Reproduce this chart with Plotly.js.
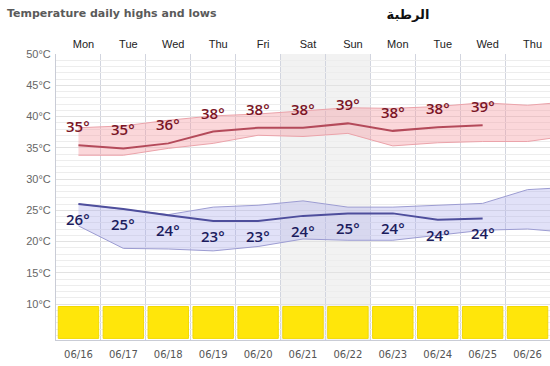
<!DOCTYPE html>
<html>
<head>
<meta charset="utf-8">
<script src="https://cdn.plot.ly/plotly-3.0.1.min.js"></script>
<style>html,body{margin:0;padding:0;background:#fff;}#chart{width:550px;height:366px;}</style>
</head>
<body>
<div id="chart"></div>
<script>
// ---- data ----
var days = ["Mon","Tue","Wed","Thu","Fri","Sat","Sun","Mon","Tue","Wed","Thu"];
var dates = ["06/16","06/17","06/18","06/19","06/20","06/21","06/22","06/23","06/24","06/25","06/26"];
var highLine = [35.4, 34.9, 35.7, 37.6, 38.2, 38.2, 38.9, 37.7, 38.3, 38.6];
var highLabels = [35, 35, 36, 38, 38, 38, 39, 38, 38, 39];
var lowLine = [26.0, 25.2, 24.2, 23.3, 23.3, 24.1, 24.5, 24.5, 23.5, 23.7];
var lowLabels = [26, 25, 24, 23, 23, 24, 25, 24, 24, 24];
// bands (one value per day, plus the value at the right chart edge)
var bandX = [0,1,2,3,4,5,6,7,8,9,10,10.5];
var highBandTop = [38.2, 38.5, 39.4, 40.1, 40.4, 40.9, 41.4, 41.3, 41.6, 42.2, 41.8, 42.1];
var highBandBottom = [33.8, 33.8, 34.9, 35.7, 37.0, 36.8, 37.3, 35.3, 35.8, 36.0, 36.0, 36.5];
var lowBandTop = [26.0, 25.2, 24.3, 25.5, 25.8, 26.5, 25.5, 25.5, 25.8, 26.1, 28.3, 28.5];
var lowBandBottom = [22.5, 18.9, 18.8, 18.5, 19.2, 20.4, 20.2, 20.2, 21.0, 21.8, 22.0, 21.7];
var iconBase = 4.5, iconTop = 9.6;
var yTicks = [10, 15, 20, 25, 30, 35, 40, 45, 50];
var yTickText = ["10°C","15°C","20°C","25°C","30°C","35°C","40°C","45°C","50°C"];

var idx = days.map(function(d,i){return i;});
var lineIdx = highLine.map(function(d,i){return i;});

var traces = [
  {x: idx, y: idx.map(function(){return iconTop-iconBase;}), base: idx.map(function(){return iconBase;}),
   type:'bar', width:0.9, marker:{color:'#ffe60a', line:{color:'#f2d900', width:1}}, hoverinfo:'skip'},
  {x: bandX, y: highBandBottom, mode:'lines', line:{color:'#eba3aa', width:1}, hoverinfo:'skip'},
  {x: bandX, y: highBandTop, mode:'lines', fill:'tonexty', fillcolor:'rgba(245,150,158,0.38)', line:{color:'#eba3aa', width:1}, hoverinfo:'skip'},
  {x: bandX, y: lowBandBottom, mode:'lines', line:{color:'#9c9cd2', width:1}, hoverinfo:'skip'},
  {x: bandX, y: lowBandTop, mode:'lines', fill:'tonexty', fillcolor:'rgba(170,170,235,0.35)', line:{color:'#9c9cd2', width:1}, hoverinfo:'skip'},
  {x: lineIdx, y: highLine, mode:'lines', line:{color:'#b44a5a', width:2}, hoverinfo:'skip'},
  {x: lineIdx, y: lowLine, mode:'lines', line:{color:'#4e4e9c', width:2}, hoverinfo:'skip'},
  {x: idx, y: idx.map(function(){return null;}), xaxis:'x2', mode:'lines', hoverinfo:'skip'}
];

var annotations = [];
highLabels.forEach(function(v,i){
  annotations.push({x:i, y:highLine[i], xref:'x', yref:'y', text:v+'°', showarrow:false, yshift:19,
    font:{family:'Open Sans, sans-serif', size:15, weight:600, color:'#7a1426'}});
});
lowLabels.forEach(function(v,i){
  annotations.push({x:i, y:lowLine[i], xref:'x', yref:'y', text:v+'°', showarrow:false, yshift:-15,
    font:{family:'Open Sans, sans-serif', size:15, weight:600, color:'#1c1c5e'}});
});
annotations.push({x:-51/494, y:1.14, xref:'paper', yref:'paper', xanchor:'left', yanchor:'middle',
  text:'<b>Temperature daily highs and lows</b>', showarrow:false,
  font:{family:'DejaVu Sans, sans-serif', size:11, color:'#5a5a5a'}});

var shapes = [];
days.forEach(function(d,i){
  if (d === 'Sat' || d === 'Sun') {
    shapes.push({type:'rect', xref:'x', yref:'paper', x0:i-0.5, x1:i+0.5, y0:0, y1:1,
      fillcolor:'#f2f2f2', line:{width:0}, layer:'below'});
  }
});

var layout = {
  width:550, height:366,
  margin:{l:56, r:0, t:54, b:26},
  paper_bgcolor:'#fff', plot_bgcolor:'#fff',
  showlegend:false,
  title:{text:'<b>الرطبة</b>', xref:'container', yref:'container', x:408/550, y:1-14/366,
    xanchor:'center', yanchor:'middle', font:{family:'DejaVu Sans, sans-serif', size:13, color:'#111'}},
  xaxis:{range:[-0.5,10.5], tickmode:'array', tickvals:idx, ticktext:dates, showgrid:false,
    zeroline:false, showline:true, linecolor:'#c9ccd6', linewidth:1, ticks:'', ticklabelstandoff:5,
    tickfont:{family:'DejaVu Sans, sans-serif', size:10, color:'#555'},
    minor:{tick0:-0.5, dtick:1, showgrid:true, gridcolor:'#d2d5df', gridwidth:1}},
  xaxis2:{overlaying:'x', side:'top', matches:'x', range:[-0.5,10.5], tickmode:'array', tickvals:idx, ticktext:days,
    showgrid:false, zeroline:false, ticks:'', ticklabelshift:5, ticklabelstandoff:3,
    tickfont:{family:'Liberation Sans, Arial, sans-serif', size:11, color:'#222'}},
  yaxis:{range:[4.24,50], tickmode:'array', tickvals:yTicks, ticktext:yTickText, showgrid:true,
    gridcolor:'#e2e2e2', zeroline:false, showline:true, linecolor:'#c9ccd6', ticks:'', ticklabelstandoff:2,
    tickfont:{family:'Liberation Sans, Arial, sans-serif', size:11, color:'#666'},
    minor:{tick0:0, dtick:1, showgrid:true, gridcolor:'#ededed', gridwidth:1}},
  annotations:annotations,
  shapes:shapes,
  bargap:0
};

Plotly.newPlot('chart', traces, layout, {staticPlot:true, displayModeBar:false});
</script>
</body>
</html>
